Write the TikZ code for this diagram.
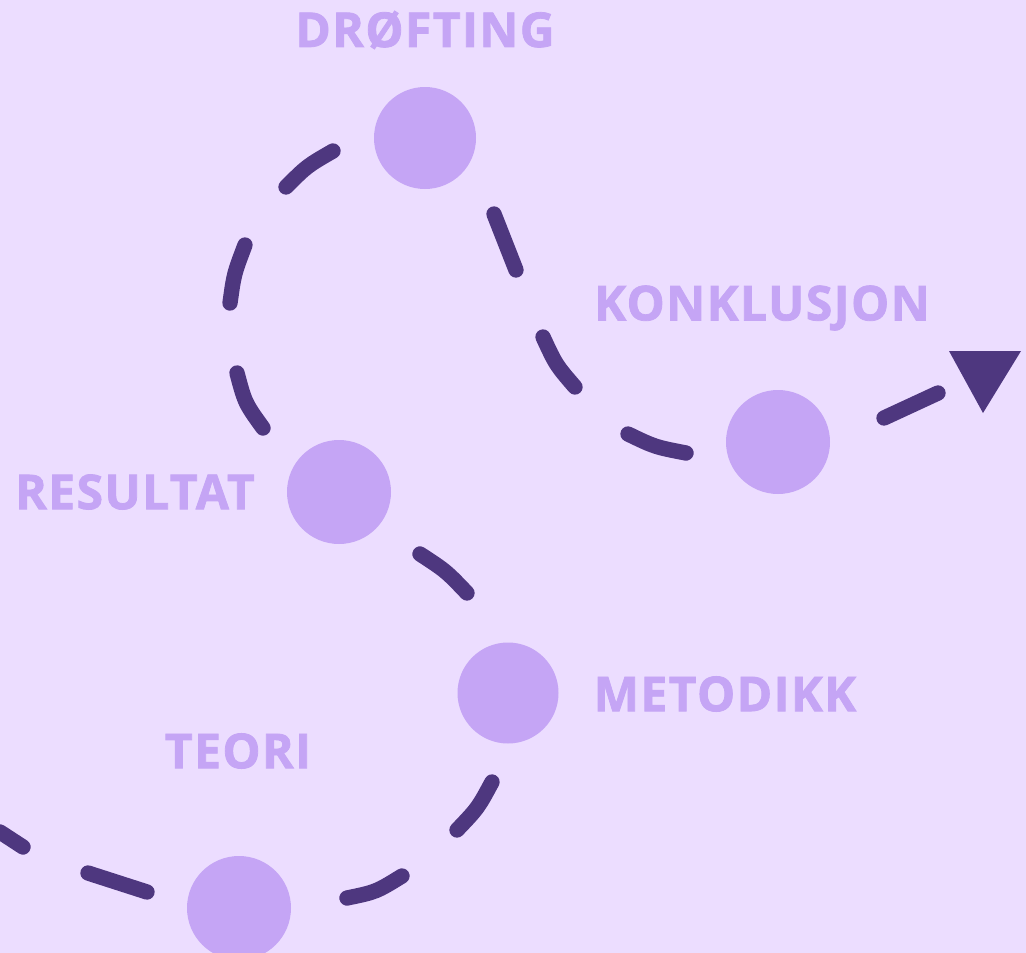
\documentclass[tikz,border=0pt]{standalone}
\usepackage{fontspec}
\setmainfont{Open Sans}[BoldFeatures={FakeBold=1.6,LetterSpace=3}]
\definecolor{bgviolet}{HTML}{ECDDFF}
\definecolor{blobviolet}{HTML}{C5A5F5}
\definecolor{pathviolet}{HTML}{4E377F}
\tikzset{
  stage/.style={circle, fill=blobviolet, minimum size=#1*0.75pt, inner sep=0pt},
  stage/.default=104,
  label text/.style={text=blobviolet, font=\fontsize{36pt}{40pt}\selectfont\bfseries, inner sep=0pt, anchor=center},
  dashseg/.style={draw=pathviolet, line width=11.5pt, line cap=round},
}
\begin{document}
\begin{tikzpicture}[x=0.75pt,y=-0.75pt]
  % canvas
  \fill[bgviolet] (0,0) rectangle (1026,953);
  \useasboundingbox (0,0) rectangle (1026,953);

  % the winding dashed route
  \draw[dashseg] (0,832) -- (23,847);
  \draw[dashseg] (88,873) -- (147,892);
  \draw[dashseg] (347,898) .. controls (376,892) .. (402,876);
  \draw[dashseg] (457,830) .. controls (478,808) .. (492,782);
  \draw[dashseg] (467,593) .. controls (446,571) .. (420,554);
  \draw[dashseg] (263,428) .. controls (245,403) .. (237,373);
  \draw[dashseg] (230,303) .. controls (234,274) .. (245,245);
  \draw[dashseg] (286,187) .. controls (307,166) .. (333,151);
  \draw[dashseg] (494,214) -- (516,270);
  \draw[dashseg] (543,337) .. controls (556,365) .. (575,387);
  \draw[dashseg] (628,434) .. controls (655,447) .. (686,453);
  \draw[dashseg] (884,418) -- (938,393);
  \fill[pathviolet] (949,351) -- (1021,351) -- (983,413) -- cycle;

  % stations along the route
  \node[stage=104] (teori) at (239,908) {};
  \node[stage=101] (metodikk) at (508,693) {};
  \node[stage=104] (resultat) at (339,492) {};
  \node[stage=102] (drofting) at (425,138) {};
  \node[stage=104] (konklusjon) at (778,442) {};

  % station names
  \node[label text] (lteori) at (238,751) {TEORI};
  \node[label text] (lmetodikk) at (725,694) {METODIKK};
  \node[label text] (lresultat) at (135,492) {RESULTAT};
  \node[label text] (ldrofting) at (425,30) {DRØFTING};
  \node[label text] (lkonklusjon) at (762,308) {KONKLUSJON};
\end{tikzpicture}
\end{document}
